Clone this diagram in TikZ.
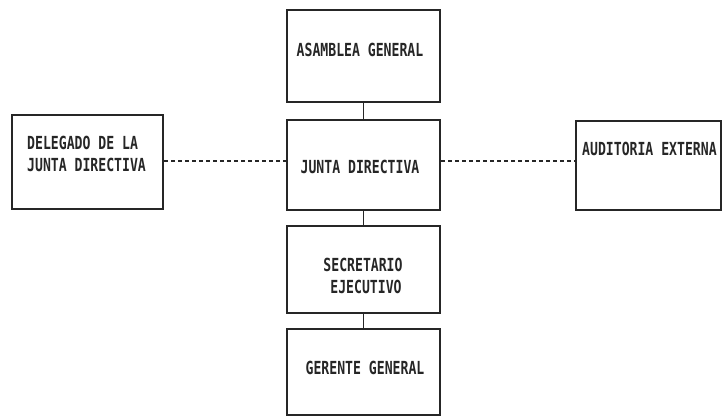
\documentclass[tikz,border=0pt]{standalone}
\usepackage{fontspec}
\newfontfamily\orgfont[FakeStretch=0.73]{DejaVu Sans Mono Bold}
\begin{document}
\begin{tikzpicture}[x=1pt,y=-1pt,
  orgbox/.style={draw=black!85,line width=2pt,rectangle,inner sep=0pt},
  lbl/.style={font=\orgfont\fontsize{18}{22}\selectfont,text=black!85,inner sep=0pt,align=center},
  solidlink/.style={draw=black!85,line width=1.6pt},
  dotlink/.style={draw=black!85,line width=1.6pt,dash pattern=on 4pt off 3pt}]
\useasboundingbox (0,0) rectangle (723,419);
\node[orgbox,minimum width=153pt,minimum height=92pt] (asam) at (363.5,56) {};
\node[orgbox,minimum width=153pt,minimum height=90pt] (junta) at (363.5,165) {};
\node[orgbox,minimum width=153pt,minimum height=87pt] (secr) at (363.5,269.5) {};
\node[orgbox,minimum width=153pt,minimum height=86pt] (ger) at (363.5,372) {};
\node[orgbox,minimum width=151pt,minimum height=94pt] (deleg) at (87.5,162) {};
\node[orgbox,minimum width=145pt,minimum height=89pt] (audit) at (648.5,165.5) {};
\node[lbl] (tasam) at (360,50) {ASAMBLEA GENERAL};
\node[lbl] (tjunta) at (360,167) {JUNTA DIRECTIVA};
\node[lbl,align=center] (tsecr) at (363,276) {SECRETARIO\\\hspace*{6pt}EJECUTIVO};
\node[lbl] (tger) at (365,368) {GERENTE GENERAL};
\node[lbl,align=left,anchor=west] (tdeleg) at (27,154) {DELEGADO DE LA\\JUNTA DIRECTIVA};
\node[lbl,anchor=west] (taudit) at (582,149) {AUDITORIA EXTERNA};
\draw[solidlink] (asam.south) -- (junta.north);
\draw[solidlink] (junta.south) -- (secr.north);
\draw[solidlink] (secr.south) -- (ger.north);
\draw[dotlink] (deleg.east |- 0,161) -- (junta.west |- 0,161);
\draw[dotlink] (junta.east |- 0,161) -- (audit.west |- 0,161);
\end{tikzpicture}
\end{document}
